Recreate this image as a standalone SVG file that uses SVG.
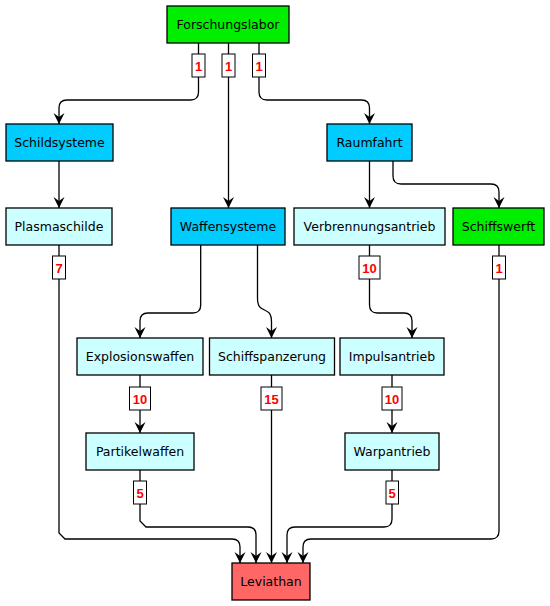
<svg xmlns="http://www.w3.org/2000/svg" width="550" height="606" viewBox="0 0 550 606">
<style>
.n rect{stroke:#000;stroke-width:1.3}
.n text{font-family:"DejaVu Sans",sans-serif;font-size:12.5px;fill:#000;text-anchor:middle}
.e path{fill:none;stroke:#000;stroke-width:1.3;marker-end:url(#ah)}
.l rect{fill:#fff;stroke:#000;stroke-width:1}
.l text{font-family:"Liberation Sans",Arial,sans-serif;font-weight:bold;font-size:13px;fill:#f00;text-anchor:middle}
.g{fill:#00ee00}.b{fill:#00ccff}.c{fill:#ccffff}.r{fill:#ff6666}
</style>
<defs>
<marker id="ah" markerUnits="userSpaceOnUse" markerWidth="12" markerHeight="12" viewBox="0 0 12 12" refX="11" refY="6" orient="auto">
<path d="M11,6 L0,0.5 L4,6 L0,11.5 Z" fill="#000" stroke="none"/>
</marker>
</defs>
<g id="connectors" class="e">
<path d="M198.5,43 V92 Q198.5,100 190.5,100 H67 Q59,100 59,108 V124"/>
<path d="M228.5,43 V208"/>
<path d="M259,43 V92 Q259,100 267,100 H361.5 Q369.5,100 369.5,108 V124"/>
<path d="M59,161 V208"/>
<path d="M369.5,161 V208"/>
<path d="M393,161 V176 Q393,184 401,184 H491 Q499,184 499,192 V208"/>
<path d="M200.7,245 V305 Q200.7,313 192.7,313 H148 Q140,313 140,321 V338"/>
<path d="M257.5,245 V298 C257.5,316 271.5,304 271.5,322 V338"/>
<path d="M369.5,245 V305 Q369.5,313 377.5,313 H404 Q412,313 412,321 V338"/>
<path d="M140,375 V433"/>
<path d="M392,375 V433"/>
<path d="M271.5,375 V563"/>
<path d="M59,245 V533 L65,539 H232 Q240,539 240,547 V563"/>
<path d="M140,470 V521 L146,527 H248 Q256,527 256,535 V563"/>
<path d="M392,470 V519 Q392,527 384,527 H295 Q287,527 287,535 V563"/>
<path d="M499,245 V531 Q499,539 491,539 H311 Q303,539 303,547 V563"/>
</g>
<g id="labels" class="l">
<rect x="192" y="54" width="13" height="23"/><text x="198.5" y="71">1</text>
<rect x="222" y="54" width="13" height="23"/><text x="228.5" y="71">1</text>
<rect x="252.5" y="54" width="13" height="23"/><text x="259" y="71">1</text>
<rect x="52.5" y="256" width="13" height="23"/><text x="59" y="273">7</text>
<rect x="359" y="256" width="21" height="23"/><text x="369.5" y="273">10</text>
<rect x="492.5" y="256" width="13" height="23"/><text x="499" y="273">1</text>
<rect x="129.5" y="387" width="21" height="23"/><text x="140" y="404">10</text>
<rect x="261" y="387" width="21" height="23"/><text x="271.5" y="404">15</text>
<rect x="382" y="387" width="20" height="23"/><text x="392" y="404">10</text>
<rect x="133.5" y="481" width="13" height="23"/><text x="140" y="498">5</text>
<rect x="386" y="481" width="12.5" height="23"/><text x="392.2" y="498">5</text>
</g>
<g id="Forschungslabor" class="n"><rect class="g" x="167" y="6" width="122" height="37"/><text x="228" y="29">Forschungslabor</text></g>
<g id="Schildsysteme" class="n"><rect class="b" x="6" y="124" width="107" height="37"/><text x="59.5" y="147">Schildsysteme</text></g>
<g id="Raumfahrt" class="n"><rect class="b" x="327" y="124" width="85" height="37"/><text x="369.5" y="147">Raumfahrt</text></g>
<g id="Plasmaschilde" class="n"><rect class="c" x="6" y="208" width="106" height="37"/><text x="59" y="231">Plasmaschilde</text></g>
<g id="Waffensysteme" class="n"><rect class="b" x="171" y="208" width="114" height="37"/><text x="228" y="231">Waffensysteme</text></g>
<g id="Verbrennungsantrieb" class="n"><rect class="c" x="294" y="208" width="151" height="37"/><text x="369.5" y="231">Verbrennungsantrieb</text></g>
<g id="Schiffswerft" class="n"><rect class="g" x="453" y="208" width="91" height="37"/><text x="498.5" y="231">Schiffswerft</text></g>
<g id="Explosionswaffen" class="n"><rect class="c" x="77" y="338" width="126" height="37"/><text x="140" y="361">Explosionswaffen</text></g>
<g id="Schiffspanzerung" class="n"><rect class="c" x="209.5" y="338" width="125" height="37"/><text x="272" y="361">Schiffspanzerung</text></g>
<g id="Impulsantrieb" class="n"><rect class="c" x="340" y="338" width="104" height="37"/><text x="392" y="361">Impulsantrieb</text></g>
<g id="Partikelwaffen" class="n"><rect class="c" x="86" y="433" width="108" height="37"/><text x="140" y="456">Partikelwaffen</text></g>
<g id="Warpantrieb" class="n"><rect class="c" x="345" y="433" width="94" height="37"/><text x="392" y="456">Warpantrieb</text></g>
<g id="Leviathan" class="n"><rect class="r" x="232" y="563" width="78" height="37"/><text x="271" y="586">Leviathan</text></g>
</svg>
